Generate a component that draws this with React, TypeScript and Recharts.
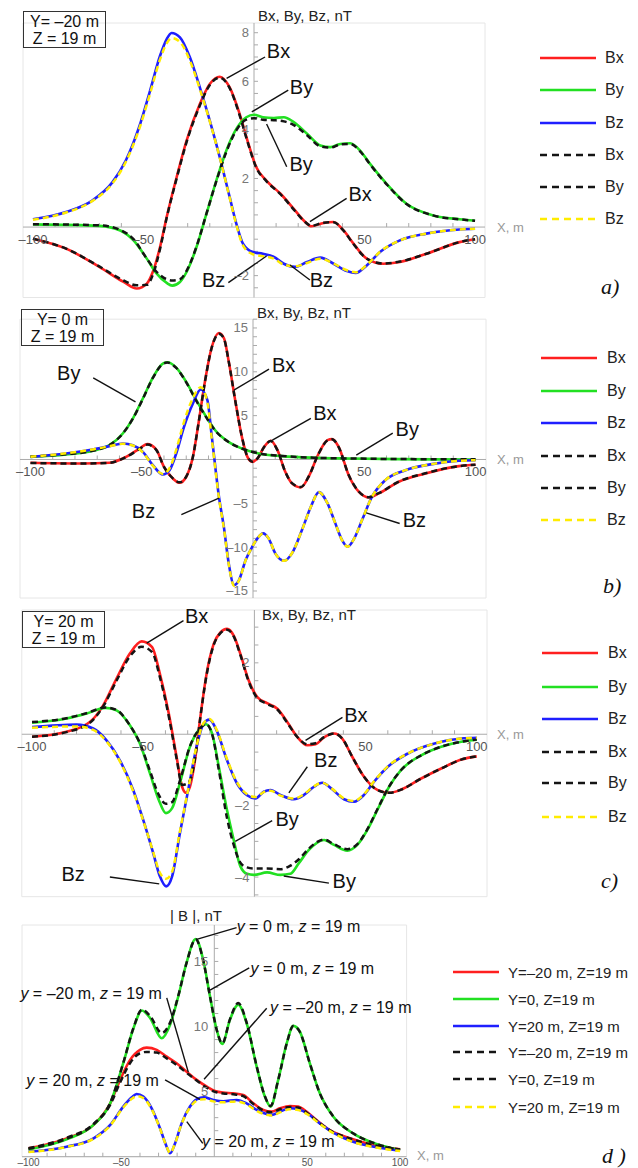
import React from 'react';
import { LineChart, Line, XAxis, YAxis, CartesianGrid, ReferenceLine, ReferenceDot } from 'recharts';

const W = 638;
const FONT = 'Arial, "Liberation Sans", Helvetica, sans-serif';
const RED = '#ff1f1f';
const GREEN = '#22e022';
const BLUE = '#1f1fff';
const YELLOW = '#ffec00';
const BLACK = '#141414';
const GRID = '#e6e6e6';
const AXIS = '#aaaaaa';

// ---- a) Y = -20 m, Z = 19 m ----
const aBxX = [-100, -85, -70, -59, -53, -48.5, -45.5, -42.5, -39.5, -35, -30.5, -24.5, -20, -15.5, -11, -6.5, -2.5, 1, 5.5, 12, 18, 22.5, 26, 31, 36, 40.5, 45, 51, 58.5, 66, 78, 93, 100];
const aBx = [-0.48, -0.89, -1.64, -2.26, -2.53, -2.33, -1.78, -0.82, 0.41, 2.05, 3.56, 5.07, 5.89, 6.19, 5.75, 4.66, 3.42, 2.47, 1.92, 1.37, 0.75, 0.27, 0.03, 0.16, 0.21, -0.14, -0.68, -1.3, -1.51, -1.44, -1.1, -0.62, -0.5];
const aBxD = [-0.48, -0.89, -1.62, -2.2, -2.4, -2.38, -1.9, -0.9, 0.38, 2.0, 3.5, 5.0, 5.85, 6.15, 5.72, 4.6, 3.38, 2.45, 1.9, 1.35, 0.72, 0.26, 0.05, 0.17, 0.2, -0.15, -0.7, -1.3, -1.5, -1.42, -1.1, -0.62, -0.5];
const aByX = [-100, -70, -60.5, -54.5, -48.5, -44, -39.5, -37, -33.5, -30.5, -26, -21.5, -17, -12.5, -8, -3.5, 0, 4, 9, 13.5, 18, 24, 30, 34.5, 39, 43.5, 48, 52.5, 60, 69, 81, 93, 100];
const aBy = [0.11, 0.05, -0.14, -0.55, -1.3, -1.92, -2.3, -2.41, -2.26, -1.85, -0.82, 0.55, 1.92, 3.15, 4.04, 4.52, 4.62, 4.52, 4.49, 4.52, 4.32, 3.84, 3.36, 3.29, 3.42, 3.45, 3.15, 2.6, 1.78, 0.96, 0.48, 0.32, 0.26];
const aByD = [0.12, 0.07, -0.12, -0.5, -1.3, -1.85, -2.15, -2.2, -2.15, -1.8, -0.8, 0.55, 1.9, 3.1, 3.98, 4.42, 4.48, 4.42, 4.4, 4.35, 4.2, 3.78, 3.32, 3.27, 3.4, 3.42, 3.12, 2.58, 1.76, 0.95, 0.48, 0.32, 0.26];
const aBzX = [-100, -85, -73, -64, -58, -52, -47, -42.5, -39.5, -37.3, -33.5, -29, -24.5, -20, -15.5, -11, -8, -5, -0.5, 4, 9, 13.5, 18.5, 24, 30, 36, 42, 46, 51, 57, 66, 78, 93, 100];
const aBz = [0.32, 0.62, 1.1, 1.85, 2.74, 4.11, 5.62, 7.05, 7.74, 7.99, 7.81, 6.99, 5.75, 4.38, 2.88, 1.23, 0.14, -0.68, -1.03, -1.1, -1.23, -1.51, -1.64, -1.44, -1.26, -1.51, -1.81, -1.89, -1.58, -1.03, -0.55, -0.27, -0.1, -0.07];
const aBzD = [0.3, 0.6, 1.08, 1.8, 2.68, 4.02, 5.5, 6.9, 7.56, 7.78, 7.62, 6.85, 5.68, 4.35, 2.86, 1.2, 0.1, -0.75, -1.12, -1.2, -1.3, -1.55, -1.62, -1.48, -1.3, -1.5, -1.78, -1.86, -1.56, -1.02, -0.55, -0.27, -0.1, -0.07];

// ---- b) Y = 0 m, Z = 19 m ----
const bBxX = [-100, -76.5, -64.5, -57, -51, -47.5, -43.5, -40, -36, -33, -30, -27, -24.5, -21.5, -18.5, -15.3, -13, -11, -8, -5, -2.5, -0.3, 2, 5, 8, 11, 14.5, 17.5, 21.5, 25, 29.5, 33.5, 35.5, 38.5, 43, 47.5, 52, 56.5, 65.5, 77.5, 92.5, 100];
const bBx = [-0.38, -0.46, -0.38, 0.3, 1.25, 1.75, 1.14, -0.84, -2.17, -2.66, -1.97, 0.3, 4.1, 9.04, 12.84, 14.43, 13.79, 11.32, 6.76, 2.58, 0.3, -0.27, 0.11, 1.44, 2.13, 1.06, -1.41, -2.73, -3.19, -1.97, 0.68, 2.2, 2.32, 1.44, -1.79, -3.68, -4.33, -3.87, -2.54, -1.6, -0.76, -0.6];
const bBxD = [-0.4, -0.46, -0.38, 0.28, 1.2, 1.7, 1.1, -0.85, -2.15, -2.6, -1.95, 0.3, 4.1, 9.0, 12.8, 14.35, 13.75, 11.3, 6.75, 2.6, 0.32, -0.25, 0.12, 1.42, 2.1, 1.05, -1.4, -2.7, -3.15, -1.95, 0.66, 2.18, 2.3, 1.42, -1.78, -3.65, -4.3, -3.85, -2.52, -1.58, -0.76, -0.6];
const bByX = [-100, -84, -72, -64.5, -58.5, -54, -49.5, -45, -40.5, -38.5, -34.5, -30, -25.5, -21, -17, -11, -5, 2.5, 13, 28, 43, 65.5, 100];
const bBy = [0.3, 0.57, 0.99, 1.63, 2.96, 4.67, 6.95, 9.34, 10.94, 11.09, 10.48, 8.85, 6.76, 4.86, 3.34, 2.01, 1.25, 0.68, 0.38, 0.19, 0.11, 0.04, 0.0];
const bByD = [0.35, 0.6, 1.0, 1.65, 2.95, 4.65, 6.9, 9.3, 10.9, 11.05, 10.45, 8.8, 6.7, 4.8, 3.3, 2.0, 1.25, 0.7, 0.4, 0.2, 0.12, 0.05, 0.02];
const bBzX = [-100, -84, -72, -64.5, -58.5, -54, -49.5, -45, -40.5, -37.5, -34.5, -31, -27, -23.5, -20.5, -18.5, -15.3, -13, -11, -8.5, -6.3, -3.3, -0.3, 2, 4.5, 7, 10, 14, 17.5, 22, 26, 29.6, 33.5, 37, 40, 42.5, 45.5, 49, 53.5, 59.5, 68.5, 80.5, 92.5, 100];
const bBz = [0.3, 0.68, 1.14, 1.52, 1.82, 1.63, 0.87, -0.65, -1.71, -1.22, 0.68, 3.72, 6.38, 7.98, 6.76, 2.58, -4.25, -7.86, -11.7, -14.32, -13.75, -11.47, -9.95, -9.0, -8.43, -9.0, -10.71, -11.55, -10.71, -8.05, -5.39, -3.72, -5.01, -7.29, -9.19, -9.95, -9.0, -6.91, -4.25, -2.35, -1.22, -0.53, -0.15, -0.08];
const bBzD = [0.32, 0.7, 1.15, 1.5, 1.78, 1.6, 0.8, -0.7, -1.65, -1.0, 1.1, 4.3, 7.0, 8.25, 6.5, 2.3, -4.4, -8.0, -11.8, -14.4, -13.8, -11.5, -9.95, -9.0, -8.45, -9.0, -10.7, -11.55, -10.7, -8.05, -5.4, -3.75, -5.0, -7.3, -9.2, -9.95, -9.0, -6.9, -4.25, -2.35, -1.22, -0.53, -0.15, -0.08];

// ---- c) Y = 20 m, Z = 19 m ----
const cBxX = [-100, -84.5, -74, -68, -62, -56, -50.7, -46, -42.5, -38.5, -35, -32.5, -30.8, -29, -26.5, -24.5, -21.5, -18.3, -15.3, -12.3, -9.3, -6.3, -2.6, 1.2, 5.7, 10.2, 14.7, 19.2, 23.8, 27.5, 31.3, 35.8, 39.5, 44, 49.3, 55.3, 60.6, 66, 75, 84, 93, 100];
const cBx = [-0.07, 0.07, 0.34, 0.81, 1.56, 2.26, 2.6, 2.44, 1.69, 0.58, -0.63, -1.47, -1.64, -1.47, -0.63, 0.39, 1.69, 2.53, 2.85, 2.95, 2.76, 2.25, 1.51, 1.05, 0.87, 0.72, 0.35, -0.07, -0.31, -0.28, -0.09, 0.02, -0.12, -0.63, -1.19, -1.56, -1.64, -1.55, -1.24, -0.96, -0.71, -0.62];
const cBxD = [-0.07, 0.06, 0.32, 0.78, 1.5, 2.18, 2.45, 2.3, 1.6, 0.5, -0.68, -1.42, -1.4, -1.3, -0.6, 0.38, 1.66, 2.5, 2.83, 2.93, 2.74, 2.22, 1.48, 1.02, 0.85, 0.7, 0.33, -0.07, -0.28, -0.25, -0.08, 0.02, -0.12, -0.63, -1.19, -1.56, -1.64, -1.55, -1.24, -0.96, -0.71, -0.62];
const cByX = [-100, -84.5, -75.5, -67, -62, -56, -51.5, -47, -43, -39.8, -37, -33.5, -29, -24.5, -21.7, -19, -16, -12.3, -9.3, -6.3, -3.3, -0.3, 5.7, 11.7, 16.2, 20, 24.5, 31.3, 35.8, 41.8, 46.3, 50.8, 55.3, 60.6, 66, 75, 84, 93, 100];
const cBy = [0.32, 0.44, 0.58, 0.74, 0.67, 0.25, -0.26, -1.09, -1.84, -2.21, -2.07, -1.37, -0.35, 0.16, 0.28, 0.02, -0.91, -2.13, -2.96, -3.7, -3.91, -3.94, -3.87, -3.94, -3.91, -3.61, -3.24, -2.96, -3.1, -3.26, -3.1, -2.68, -2.12, -1.47, -1.0, -0.59, -0.35, -0.21, -0.15];
const cByD = [0.34, 0.45, 0.59, 0.75, 0.68, 0.25, -0.25, -1.02, -1.7, -1.95, -1.9, -1.3, -0.34, 0.16, 0.28, 0.0, -1.0, -2.35, -3.1, -3.6, -3.73, -3.76, -3.76, -3.78, -3.68, -3.5, -3.2, -2.95, -3.08, -3.22, -3.08, -2.66, -2.1, -1.46, -1.0, -0.59, -0.35, -0.21, -0.15];
const cBzX = [-100, -80, -72.5, -66.5, -60.5, -54.5, -50, -45.5, -42.5, -39.7, -37, -33.5, -29.5, -26, -23, -20.2, -17, -12.3, -7.8, -3.3, 0.5, 4.2, 7.2, 11.7, 17.7, 22.3, 26.8, 30.5, 35, 40.3, 44.8, 49.3, 53.8, 60, 69, 81, 93, 100];
const cBz = [0.2, 0.27, 0.16, -0.17, -0.73, -1.56, -2.4, -3.33, -3.98, -4.26, -3.98, -2.77, -1.47, -0.35, 0.28, 0.41, 0.11, -0.73, -1.38, -1.71, -1.8, -1.61, -1.56, -1.7, -1.82, -1.7, -1.47, -1.36, -1.54, -1.82, -1.89, -1.7, -1.33, -0.91, -0.54, -0.26, -0.12, -0.1];
const cBzD = [0.18, 0.22, 0.12, -0.2, -0.76, -1.6, -2.42, -3.3, -3.88, -4.05, -3.85, -2.72, -1.45, -0.33, 0.3, 0.43, 0.13, -0.7, -1.35, -1.68, -1.76, -1.62, -1.58, -1.72, -1.8, -1.68, -1.46, -1.36, -1.53, -1.8, -1.87, -1.68, -1.32, -0.9, -0.54, -0.26, -0.12, -0.1];

// ---- d) |B| ----
const dY0X = [-100, -79.5, -65, -56, -49, -43.5, -39, -34.5, -28.3, -23.8, -19.4, -15, -10, -6, -2.3, 1.3, 4.3, 8.4, 12.9, 17.4, 22.8, 27.2, 30.3, 34.4, 39, 42.5, 46, 51.4, 56.8, 64, 74.7, 87.3, 100];
const dY0 = [0.56, 1.33, 2.44, 4.1, 7.18, 9.87, 11.23, 10.64, 9.1, 10.13, 12.31, 14.87, 16.72, 15.13, 12.31, 9.74, 8.67, 10.51, 11.67, 10.26, 6.92, 4.62, 3.85, 5.9, 8.72, 10.05, 9.62, 7.18, 4.87, 3.08, 1.79, 0.97, 0.51];
const dY0D = [0.6, 1.38, 2.5, 4.15, 7.2, 9.9, 11.3, 10.8, 9.5, 10.3, 12.35, 14.85, 16.7, 15.1, 12.3, 9.75, 8.7, 10.55, 11.8, 10.3, 6.95, 4.65, 3.9, 5.9, 8.7, 10.05, 9.6, 7.18, 4.87, 3.1, 1.8, 0.98, 0.52];
const dYmX = [-100, -79.5, -65, -56, -50.7, -45.3, -40, -36.4, -31, -25.6, -20.3, -15, -9.5, -4, 0.4, 4.8, 10.2, 15.6, 21, 26.4, 30.8, 35.3, 40.7, 45.2, 49.6, 55, 62.2, 73, 85.5, 100];
const dYm = [0.64, 1.41, 2.44, 4.1, 5.9, 7.44, 8.21, 8.38, 8.21, 7.69, 7.18, 6.54, 5.9, 5.38, 5.05, 4.92, 4.87, 4.74, 4.1, 3.59, 3.46, 3.72, 3.9, 3.85, 3.46, 2.82, 2.05, 1.41, 0.9, 0.56];
const dYmD = [0.66, 1.45, 2.5, 4.0, 5.7, 7.2, 7.95, 8.05, 8.0, 7.55, 7.05, 6.45, 5.85, 5.3, 4.98, 4.85, 4.8, 4.65, 4.05, 3.55, 3.42, 3.65, 3.82, 3.78, 3.4, 2.78, 2.03, 1.4, 0.9, 0.56];
const dYpX = [-100, -79.5, -65, -56, -49, -44.4, -41.8, -38.2, -33.7, -29.2, -26, -23.8, -21.1, -17.6, -13.1, -9.5, -5.6, -0.5, 4.8, 12, 17.4, 22.8, 28.1, 30.8, 35.3, 40.7, 45.2, 50.5, 56.8, 64, 74.7, 87.3, 100];
const dYp = [0.38, 0.77, 1.41, 2.44, 3.85, 4.56, 4.82, 4.62, 3.72, 2.18, 0.9, 0.26, 1.03, 2.56, 3.85, 4.41, 4.56, 4.36, 4.26, 4.36, 4.1, 3.59, 3.28, 3.21, 3.46, 3.72, 3.64, 3.28, 2.56, 1.85, 1.15, 0.72, 0.46];
const dYpD = [0.36, 0.75, 1.38, 2.4, 3.78, 4.45, 4.65, 4.5, 3.65, 2.15, 0.9, 0.28, 1.03, 2.52, 3.78, 4.3, 4.42, 4.25, 4.18, 4.25, 4.02, 3.52, 3.22, 3.16, 3.4, 3.65, 3.58, 3.22, 2.52, 1.82, 1.13, 0.7, 0.44];

const compNames = ['Bx', 'By', 'Bz', 'Bx', 'By', 'Bz'];
const absNames = ['Y=\u201320 m, Z=19 m', 'Y=0, Z=19 m', 'Y=20 m, Z=19 m', 'Y=\u201320 m, Z=19 m', 'Y=0, Z=19 m', 'Y=20 m, Z=19 m'];
const colors = [RED, GREEN, BLUE, BLACK, BLACK, YELLOW];

const pts = (xs: number[], ys: number[]) => xs.map((x, i) => ({ x, y: ys[i] }));
const fmt = (v: number) => (v < 0 ? '\u2013' + Math.abs(v) : String(v));

type Note = { t: string; x: number; y: number; seg: [number, number, number, number] };

const panels = [
  {
    key: 'a', top: 0, height: 300,
    plot: { left: 23, right: 485, top: 23, bottom: 297.5 },
    xDomain: [-104.5, 104.5], yDomain: [-2.9, 8.4],
    yGrid: [-2, 0, 2, 4, 6, 8], yLabels: [-2, 2, 4, 6, 8], yMinor: 0.5,
    series: [[aBxX, aBx], [aByX, aBy], [aBzX, aBz], [aBxX, aBxD], [aByX, aByD], [aBzX, aBzD]],
    notes: [
      { t: 'Bx', x: 11.1, y: 7.24, seg: [5.0, 7.0, -12.4, 6.12] },
      { t: 'By', x: 21.5, y: 5.78, seg: [15.5, 5.64, -1.0, 4.74] },
      { t: 'By', x: 21.3, y: 2.59, seg: [14.8, 2.48, 5.7, 4.24] },
      { t: 'Bx', x: 48.0, y: 1.38, seg: [41.9, 1.18, 25.3, 0.22] },
      { t: 'Bz', x: -18.3, y: -2.2, seg: [-11.6, -2.29, 5.7, -1.19] },
      { t: 'Bz', x: 30.5, y: -2.2, seg: [25.3, -2.18, 16.3, -1.56] },
    ] as Note[],
    box: { left: 23, top: 11, lines: ['Y= \u201320 m', 'Z = 19 m'] },
    yTitle: { text: 'Bx, By, Bz, nT', left: 258, cy: 16 },
    xTitle: { left: 497, cy: 228 },
    legend: { x1: 540, x2: 596, tx: 605, ys: [58, 90, 123, 155, 187, 219], names: compNames, size: 16 },
    tag: { text: 'a)', left: 601, cy: 287 },
  },
  {
    key: 'b', top: 300, height: 300,
    plot: { left: 20, right: 486, top: 319.2, bottom: 598 },
    xDomain: [-104.7, 104.7], yDomain: [-15.8, 16.0],
    yGrid: [-15, -10, -5, 0, 5, 10, 15], yLabels: [-15, -10, -5, 5, 10, 15], yMinor: 1,
    series: [[bBxX, bBx], [bByX, bBy], [bBzX, bBz], [bBxX, bBxD], [bByX, bByD], [bBzX, bBzD]],
    notes: [
      { t: 'By', x: -82.8, y: 9.92, seg: [-71.8, 9.3, -52.8, 6.56] },
      { t: 'Bx', x: 13.8, y: 10.78, seg: [7.2, 10.3, -8.6, 7.9] },
      { t: 'Bx', x: 32.3, y: 5.25, seg: [26, 4.7, 8.7, 2.2] },
      { t: 'By', x: 69.3, y: 3.48, seg: [62.8, 3.0, 46.4, 0.5] },
      { t: 'Bz', x: -49.2, y: -5.93, seg: [-32.2, -6.3, -15.3, -4.4] },
      { t: 'Bz', x: 72.5, y: -6.9, seg: [65.9, -7.3, 50.9, -6.1] },
    ] as Note[],
    box: { left: 21, top: 309, lines: ['Y= 0 m', 'Z = 19 m'] },
    yTitle: { text: 'Bx, By, Bz, nT', left: 257, cy: 313 },
    xTitle: { left: 497, cy: 460 },
    legend: { x1: 541, x2: 597, tx: 607, ys: [358, 391, 423, 456, 488, 520], names: compNames, size: 16 },
    tag: { text: 'b)', left: 603, cy: 586 },
  },
  {
    key: 'c', top: 600, height: 300,
    plot: { left: 21.8, right: 487, top: 610, bottom: 896.7 },
    xDomain: [-104.6, 104.6], yDomain: [-4.55, 3.48],
    yGrid: [-4, -2, 0, 2], yLabels: [-4, -2, 2], yMinor: 0.5,
    series: [[cBxX, cBx], [cByX, cBy], [cBzX, cBz], [cBxX, cBxD], [cByX, cByD], [cBzX, cBzD]],
    notes: [
      { t: 'Bx', x: -26.0, y: 3.31, seg: [-31.9, 3.18, -48.4, 2.55] },
      { t: 'Bx', x: 45.6, y: 0.54, seg: [39.6, 0.47, 23.0, -0.17] },
      { t: 'Bz', x: 32.1, y: -0.73, seg: [23.8, -0.91, 15.5, -1.64] },
      { t: 'By', x: 14.7, y: -2.36, seg: [8.0, -2.42, -8.6, -3.0] },
      { t: 'By', x: 40.4, y: -4.12, seg: [33.5, -4.17, 13.2, -3.97] },
      { t: 'Bz', x: -81.5, y: -3.92, seg: [-65, -4.0, -42.8, -4.19] },
    ] as Note[],
    box: { left: 22, top: 611, lines: ['Y= 20 m', 'Z = 19 m'] },
    yTitle: { text: 'Bx, By, Bz, nT', left: 262, cy: 615 },
    xTitle: { left: 497, cy: 735 },
    legend: { x1: 542, x2: 598, tx: 608, ys: [653, 687, 719, 752, 783, 817], names: compNames, size: 16 },
    tag: { text: 'c)', left: 601, cy: 881 },
  },
  {
    key: 'd', top: 900, height: 268,
    plot: { left: 22, right: 406.6, top: 925, bottom: 1156.7 },
    xDomain: [-103.5, 103.5], yDomain: [0, 17.8],
    yGrid: [0, 5, 10, 15], yLabels: [5, 10, 15], yMinor: 1,
    series: [[dYmX, dYm], [dY0X, dY0], [dYpX, dYp], [dYmX, dYmD], [dY0X, dY0D], [dYpX, dYpD]],
    notes: [
      { t: 'y = 0 m, z = 19 m', x: 45.3, y: 17.7, seg: [12.0, 17.6, -9.5, 16.7] },
      { t: 'y = 0 m, z = 19 m', x: 52.8, y: 14.5, seg: [18.8, 14.5, -2.3, 12.8] },
      { t: 'y = \u201320 m, z = 19 m', x: -66.3, y: 12.55, seg: [-25.6, 12.2, -14.0, 6.5] },
      { t: 'y = \u201320 m, z = 19 m', x: 68.1, y: 11.48, seg: [28.2, 11.4, -5.5, 5.95] },
      { t: 'y = 20 m, z = 19 m', x: -65.5, y: 5.9, seg: [-26.5, 5.9, -7.7, 4.4] },
      { t: 'y = 20 m, z = 19 m', x: 29.1, y: 1.2, seg: [-6.2, 1.03, -14.8, 2.7] },
    ] as Note[],
    box: null,
    yTitle: { text: '| B |, nT', left: 170, cy: 916 },
    xTitle: { left: 417, cy: 1156 },
    legend: { x1: 453, x2: 499, tx: 508, ys: [972, 999, 1026, 1052, 1079, 1107], names: absNames, size: 15 },
    tag: { text: 'd )', left: 602, cy: 1156 },
  },
];

const xGrid = [-100, -50, 0, 50, 100];
const xLabels = [-100, -50, 50, 100];
const xMinor = [-90, -80, -70, -60, -40, -30, -20, -10, 10, 20, 30, 40, 60, 70, 80, 90];

function italicize(s: string) {
  return s.split(/(\b[yz]\b)/).filter(Boolean).map((p, i) =>
    p === 'y' || p === 'z' ? <tspan key={i} fontStyle="italic">{p}</tspan> : <tspan key={i}>{p}</tspan>
  );
}

function TextAt(props: any) {
  const { viewBox, text, size = 13, color = '#111', anchor = 'middle', dx = 0, dy = 0, rich = false } = props;
  if (!viewBox) return null;
  const x = viewBox.x + (viewBox.width || 0) / 2 + dx;
  const y = viewBox.y + (viewBox.height || 0) / 2 + dy;
  return (
    <text x={x} y={y} textAnchor={anchor} dominantBaseline="central" fontSize={size} fill={color} fontFamily={FONT}>
      {rich ? italicize(text) : text}
    </text>
  );
}

function Panel({ p }: { p: (typeof panels)[number] }) {
  const margin = {
    top: p.plot.top - p.top,
    bottom: p.top + p.height - p.plot.bottom,
    left: p.plot.left,
    right: W - p.plot.right,
  };
  const pxX = (p.plot.right - p.plot.left) / (p.xDomain[1] - p.xDomain[0]);
  const pxY = (p.plot.bottom - p.plot.top) / (p.yDomain[1] - p.yDomain[0]);
  const yMinor: number[] = [];
  for (let v = Math.ceil(p.yDomain[0] / p.yMinor) * p.yMinor; v <= p.yDomain[1]; v += p.yMinor) {
    if (Math.abs(v) > 1e-6) yMinor.push(Math.round(v * 100) / 100);
  }
  const isAbs = p.key === 'd';
  const xAxisAt = isAbs ? p.yDomain[0] : 0;

  return (
    <div style={{ position: 'absolute', left: 0, top: p.top }}>
      <LineChart width={W} height={p.height} margin={margin}>
        <XAxis type="number" dataKey="x" domain={p.xDomain} ticks={xGrid} allowDataOverflow height={0} tick={false} axisLine={false} tickLine={false} />
        <YAxis type="number" domain={p.yDomain} ticks={p.yGrid} allowDataOverflow width={0} tick={false} axisLine={false} tickLine={false} />
        <CartesianGrid stroke={GRID} />
        <ReferenceLine y={xAxisAt} stroke={AXIS} strokeWidth={1} />
        <ReferenceLine x={0} stroke={AXIS} strokeWidth={1} />
        {xMinor.map((v) => (
          <ReferenceLine key={'xm' + v} segment={[{ x: v, y: xAxisAt }, { x: v, y: xAxisAt + 4 / pxY }]} stroke={AXIS} />
        ))}
        {yMinor.map((v) => (
          <ReferenceLine key={'ym' + v} segment={[{ x: 0, y: v }, { x: 4 / pxX, y: v }]} stroke={AXIS} />
        ))}
        {xLabels.map((v) => (
          <ReferenceDot key={'xl' + v} x={v} y={xAxisAt} r={0} fill="none" stroke="none"
            label={<TextAt text={fmt(v)} dy={isAbs ? 5.5 : 12} size={isAbs ? 10 : 13} color="#555" />} />
        ))}
        {p.yLabels.map((v) => (
          <ReferenceDot key={'yl' + v} x={0} y={v} r={0} fill="none" stroke="none"
            label={<TextAt text={fmt(v)} dx={isAbs ? -6 : -5} anchor="end" size={13} color="#777" />} />
        ))}
        {p.series.map(([xs, ys], i) => (
          <Line key={p.key + i} data={pts(xs, ys)} dataKey="y" type="monotone" stroke={colors[i]}
            strokeWidth={i < 3 ? 2.6 : 2.5} strokeDasharray={i < 3 ? undefined : '6 4'} dot={false} activeDot={false}
            isAnimationActive={false} />
        ))}
        {p.notes.map((n, i) => (
          <ReferenceLine key={'nl' + i} segment={[{ x: n.seg[0], y: n.seg[1] }, { x: n.seg[2], y: n.seg[3] }]} stroke="#111" strokeWidth={1.4} />
        ))}
        {p.notes.map((n, i) => (
          <ReferenceDot key={'nt' + i} x={n.x} y={n.y} r={0} fill="none" stroke="none"
            label={<TextAt text={n.t} size={isAbs ? 16 : 20} rich={isAbs} />} />
        ))}
      </LineChart>
    </div>
  );
}

function Overlay({ p }: { p: (typeof panels)[number] }) {
  const lg = p.legend;
  return (
    <>
      {p.box && (
        <div style={{ position: 'absolute', left: p.box.left, top: p.box.top, width: 83, height: 37, boxSizing: 'border-box', border: '1px solid #333', fontFamily: FONT, fontSize: 16, lineHeight: '17px', textAlign: 'center', paddingTop: 1, color: '#111' }}>
          {p.box.lines.map((l) => <div key={l}>{l}</div>)}
        </div>
      )}
      <div style={{ position: 'absolute', left: p.yTitle.left, top: p.yTitle.cy - 9, fontFamily: FONT, fontSize: 15, lineHeight: '18px', color: '#222', whiteSpace: 'nowrap' }}>{p.yTitle.text}</div>
      <div style={{ position: 'absolute', left: p.xTitle.left, top: p.xTitle.cy - 8, fontFamily: FONT, fontSize: 13, lineHeight: '16px', color: '#999', whiteSpace: 'nowrap' }}>X, m</div>
      {lg.names.map((name, i) => (
        <div key={i} style={{ position: 'absolute', left: lg.x1, top: lg.ys[i] - 10, height: 20, display: 'flex', alignItems: 'center', whiteSpace: 'nowrap' }}>
          <svg width={lg.x2 - lg.x1} height={6} style={{ display: 'block' }}>
            <line x1={0} y1={3} x2={lg.x2 - lg.x1} y2={3} stroke={colors[i]} strokeWidth={2.6} strokeDasharray={i < 3 ? undefined : '7 5'} />
          </svg>
          <span style={{ marginLeft: lg.tx - lg.x2, fontFamily: FONT, fontSize: lg.size, color: '#222' }}>{name}</span>
        </div>
      ))}
      <div style={{ position: 'absolute', left: p.tag.left, top: p.tag.cy - 13, fontFamily: '"Liberation Serif", "Times New Roman", serif', fontStyle: 'italic', fontSize: 22, lineHeight: '26px', color: '#111', whiteSpace: 'pre' }}>{p.tag.text}</div>
    </>
  );
}

export default function App() {
  return (
    <div style={{ position: 'relative', width: W, height: 1168, background: '#fff', overflow: 'hidden' }}>
      <style>{'body{margin:0}'}</style>
      {panels.map((p) => <Panel key={p.key} p={p} />)}
      {panels.map((p) => <Overlay key={'o' + p.key} p={p} />)}
    </div>
  );
}
